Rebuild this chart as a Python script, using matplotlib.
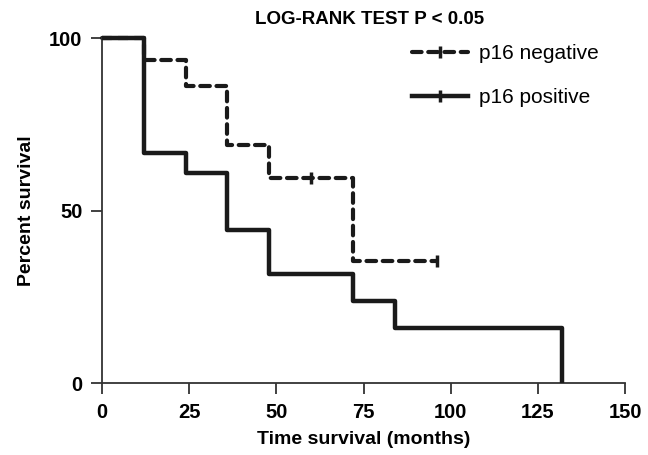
import numpy as np
import matplotlib.pyplot as plt
from matplotlib.lines import Line2D

plt.rcParams['font.family'] = ['Liberation Sans Narrow', 'Liberation Sans', 'DejaVu Sans']

# p16 negative (dashed)
neg_t = [0, 12, 24, 36, 48, 72, 96]
neg_s = [100, 93.6, 86.1, 69.0, 59.4, 35.4, 35.4]
neg_cens_t = [60, 96]
neg_cens_s = [59.4, 35.4]

# p16 positive (solid)
pos_t = [0, 12, 24, 36, 48, 72, 84, 132]
pos_s = [100, 66.7, 60.9, 44.4, 31.7, 23.8, 15.9, 0]

x_ticks = [0, 25, 50, 75, 100, 125, 150]
y_ticks = [0, 50, 100]

fig = plt.figure(figsize=(6.48, 4.55), dpi=100)
ax = fig.add_axes([0.157, 0.158, 0.808, 0.758])

dash = (0, (2.3, 1.6))
ax.step(neg_t, neg_s, where='post', color='#1a1a1a', lw=3, linestyle=dash,
        dash_capstyle='round', clip_on=False, zorder=2)
ax.plot(neg_cens_t, neg_cens_s, linestyle='none', marker='|', ms=9, mew=2.5,
        color='#1a1a1a', clip_on=False, zorder=2)
ax.step(pos_t, pos_s, where='post', color='#1a1a1a', lw=3.2,
        solid_capstyle='butt', clip_on=False, zorder=3)

ax.set_xlim(0, 150)
ax.set_ylim(0, 100)
ax.set_xticks(x_ticks)
ax.set_yticks(y_ticks)
for s in ['top', 'right']:
    ax.spines[s].set_visible(False)
for s in ['left', 'bottom']:
    ax.spines[s].set_linewidth(1.3)
    ax.spines[s].set_color('#333333')
ax.tick_params(direction='out', length=8, width=1.3, color='#333333',
               labelsize=14.5, pad=6)
for lab in ax.get_xticklabels() + ax.get_yticklabels():
    lab.set_fontweight('bold')

ax.set_xlabel('Time survival (months)', fontsize=14, fontweight='bold', labelpad=7)
ax.set_ylabel('Percent survival', fontsize=14, fontweight='bold', labelpad=10)
fig.text(0.571, 0.958, 'LOG-RANK TEST P < 0.05', ha='center', va='center',
         fontsize=13.5, fontweight='bold', family=['Liberation Sans', 'DejaVu Sans'])

handles = [
    Line2D([], [], color='#1a1a1a', lw=3, linestyle=dash, dash_capstyle='round',
           marker='|', ms=8, mew=2.5, markevery=[1]),
    Line2D([], [], color='#1a1a1a', lw=3.2, marker='|', ms=8, mew=2.5,
           markevery=[1]),
]
for h in handles:
    h.set_xdata([0, 0.5, 1])
    h.set_ydata([0, 0, 0])
leg = ax.legend(handles, ['p16 negative', 'p16 positive'], loc='upper left',
                bbox_to_anchor=(0.593, 0.982), frameon=False, handlelength=2.7,
                handletextpad=0.5, labelspacing=1.2, borderpad=0,
                borderaxespad=0,
                prop={'family': ['Liberation Sans', 'DejaVu Sans'], 'size': 15})

plt.savefig('out.png', dpi=100)
